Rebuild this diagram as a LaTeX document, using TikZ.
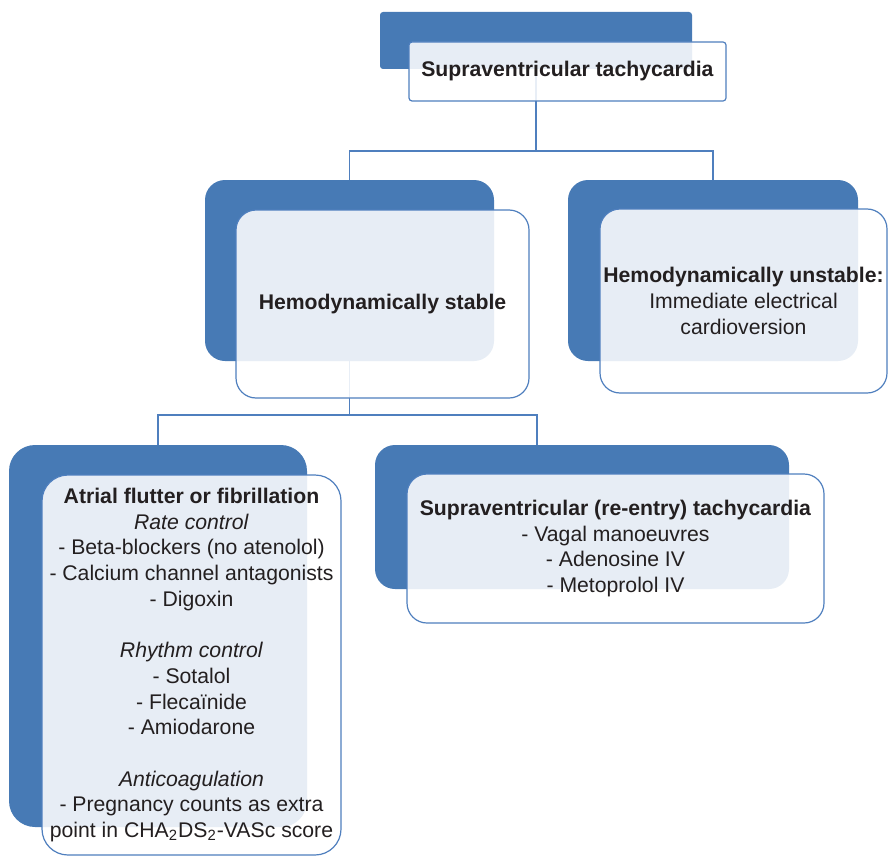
\documentclass[tikz,border=0pt]{standalone}
\usepackage{fontspec}
\setmainfont{Liberation Sans}
\usetikzlibrary{fit}
\definecolor{svblue}{RGB}{71,122,181}
\definecolor{svline}{RGB}{79,127,190}
\definecolor{svtext}{RGB}{35,31,32}
\newcommand{\txtsize}{\fontsize{10.6}{12.85}\selectfont}
% dark block behind and framed block in front, given by corners
\newcommand{\backblock}[4]{\node[back, #4, fit={(#2) (#3)}] (#1) {};}
\newcommand{\frontblock}[4]{\node[front, #4, fit={(#2) (#3)}] (#1) {};}

\begin{document}
\begin{tikzpicture}[x=0.5pt,y=-0.5pt,
	back/.style={fill=svblue, draw=none, inner sep=0pt, rounded corners=10pt},
	front/.style={fill=white, fill opacity=0.87, draw=svline, line width=0.6pt, inner sep=0pt, rounded corners=10pt},
	txt/.style={text=svtext, align=center, font=\txtsize, inner sep=0pt},
	link/.style={draw=svline, line width=0.7pt}]
	\useasboundingbox (0,0) rectangle (888,856);
	% dark blocks
	\backblock{topB}{380,12}{692,69}{rounded corners=1.5pt}
	\backblock{stabB}{205,180}{494,361}{}
	\backblock{unstB}{568,180}{858,361}{}
	\backblock{afB}{9,445}{307,827}{rounded corners=13pt}
	\backblock{svtB}{375,445}{789,589}{}
	% connectors
	\coordinate (j1) at (536,151);
	\coordinate (j2) at (stabB.center |- 0,415);
	\coordinate (d2) at (537,445);
	\draw[link] (topB.south) -- (j1);
	\draw[link] (stabB.north) |- (j1) -| (unstB.north);
	\draw[link] (stabB.south) -- (j2);
	\draw[link] (afB.north) |- (j2) -| (d2);
	% framed blocks
	\frontblock{topF}{409,42}{726,101}{rounded corners=1.5pt}
	\frontblock{stabF}{236,210}{529,398}{}
	\frontblock{unstF}{600,209}{887,393}{}
	\frontblock{afF}{42,475}{341,855}{rounded corners=13pt}
	\frontblock{svtF}{407,474}{824,623}{}
	% texts
	\node[txt] (topT) at (topF.center) {\textbf{Supraventricular tachycardia}};
	\node[txt] (stabT) at (stabF.center) {\textbf{Hemodynamically stable}};
	\node[txt] (unstT) at (unstF.center) {\textbf{Hemodynamically unstable:}\\
		Immediate electrical\\ cardioversion};
	\node[txt] (afT) at (afF.center) {\textbf{Atrial flutter or fibrillation}\\
		\textit{Rate control}\\
		- Beta-blockers (no atenolol)\\
		- Calcium channel antagonists\\
		- Digoxin\\[12.85pt]
		\textit{Rhythm control}\\
		- Sotalol\\
		- Flecaïnide\\
		- Amiodarone\\[12.85pt]
		\textit{Anticoagulation}\\
		- Pregnancy counts as extra\\
		point in CHA\textsubscript{2}DS\textsubscript{2}-VASc score};
	\node[txt] (svtT) at (svtF.center) {\textbf{Supraventricular (re-entry) tachycardia}\\
		- Vagal manoeuvres\\
		- Adenosine IV\\
		- Metoprolol IV};
\end{tikzpicture}
\end{document}
